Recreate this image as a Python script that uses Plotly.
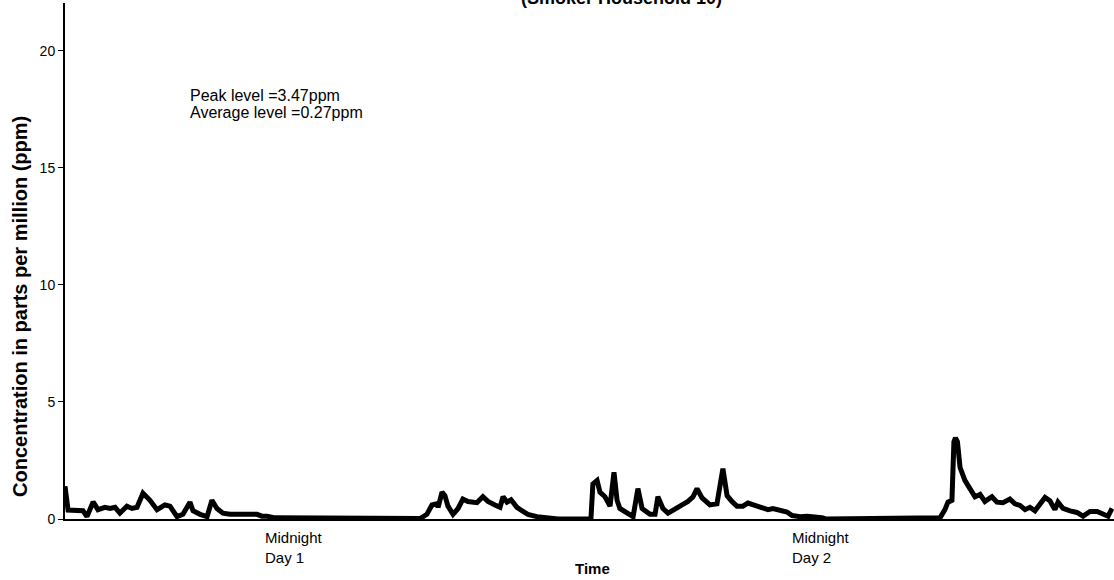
import plotly.graph_objects as go

# Time in hours since start of monitoring (start = 15:00 on the day before "Day 1")
hours = [0.0, 0.14, 0.82, 1.00, 1.28, 1.50, 1.82, 2.05, 2.28, 2.50, 2.82, 3.05, 3.28, 3.55, 3.87,
         4.19, 4.55, 4.78, 5.10, 5.37, 5.69, 5.83, 6.15, 6.47, 6.69, 6.92, 7.19, 7.51, 7.97, 8.42,
         8.74, 8.97, 9.20, 9.56, 9.79, 9.93, 14.80, 14.94, 15.07, 16.07, 16.17, 16.48, 16.71, 16.94,
         16.99, 17.17, 17.30, 17.44, 17.67, 17.90, 18.12, 18.35, 18.76, 19.03, 19.26, 19.58, 19.81,
         19.95, 20.13, 20.31, 20.58, 20.86, 21.08, 21.49, 21.95, 22.31, 22.45, 23.95, 24.04, 24.23,
         24.36, 24.59, 24.82, 25.00, 25.14, 25.27, 25.64, 25.87, 26.09, 26.28, 26.64, 26.87, 27.00,
         27.23, 27.46, 27.78, 28.10, 28.37, 28.60, 28.78, 29.01, 29.37, 29.69, 29.96, 30.15, 30.37,
         30.60, 30.87, 31.10, 31.42, 31.74, 32.01, 32.24, 32.56, 32.88, 33.11, 33.47, 33.79, 34.06,
         34.47, 34.65, 38.62, 38.71, 38.84, 39.75, 39.85, 40.07, 40.21, 40.39, 40.48, 40.55, 40.64,
         40.76, 40.98, 41.21, 41.44, 41.67, 41.89, 42.21, 42.44, 42.71, 43.03, 43.26, 43.49, 43.72,
         43.94, 44.17, 44.40, 44.63, 44.85, 45.08, 45.22, 45.45, 45.77, 46.08, 46.36, 46.68, 47.00,
         47.27, 47.50, 47.68]

ppm = [1.40, 0.38, 0.35, 0.10, 0.73, 0.40, 0.50, 0.45, 0.50, 0.25, 0.55, 0.45, 0.50, 1.10, 0.80,
       0.40, 0.60, 0.55, 0.10, 0.20, 0.72, 0.35, 0.20, 0.10, 0.80, 0.45, 0.25, 0.20, 0.20, 0.22,
       0.20, 0.12, 0.12, 0.05, 0.05, 0.00, 0.00, 0.05, 0.00, 0.00, 0.02, 0.20, 0.60, 0.65,
       0.50, 1.15, 1.00, 0.55, 0.20, 0.45, 0.85, 0.75, 0.70, 0.95, 0.75, 0.60, 0.50,
       0.95, 0.72, 0.82, 0.50, 0.32, 0.20, 0.10, 0.05, 0.05, 0.00, 0.00, 1.50, 1.65,
       1.15, 0.95, 0.55, 2.00, 0.80, 0.45, 0.25, 0.10, 1.30, 0.45, 0.20, 0.20, 0.95,
       0.45, 0.25, 0.40, 0.60, 0.75, 0.95, 1.30, 0.90, 0.60, 0.65, 2.15, 1.00, 0.75,
       0.55, 0.55, 0.68, 0.58, 0.50, 0.40, 0.45, 0.40, 0.30, 0.15, 0.10, 0.12, 0.10,
       0.05, 0.00, 0.00, 0.05, 0.00, 0.00, 0.05, 0.40, 0.72, 0.80, 3.30, 3.47, 3.30,
       2.20, 1.65, 1.30, 0.95, 1.05, 0.75, 0.95, 0.72, 0.70, 0.85, 0.65, 0.58, 0.40,
       0.50, 0.35, 0.65, 0.92, 0.78, 0.40, 0.72, 0.45, 0.35, 0.28, 0.12, 0.32, 0.32,
       0.22, 0.12, 0.45]

tick_hours = [9.0, 33.0]
tick_labels = ["Midnight<br>Day 1", "Midnight<br>Day 2"]
y_ticks = [0, 5, 10, 15, 20]

title_text = "(Smoker Household 10)"
x_title = "Time"
y_title = "Concentration in parts per million (ppm)"
notes = ["Peak level =3.47ppm", "Average level =0.27ppm"]

FONT = "Arial, Liberation Sans, Helvetica, sans-serif"

fig = go.Figure()
fig.add_trace(go.Scatter(x=hours, y=ppm, mode="lines",
                         line=dict(color="black", width=5), showlegend=False,
                         hoverinfo="x+y"))

annotations = []
for th, tl in zip(tick_hours, tick_labels):
    annotations.append(dict(x=th, y=-0.0562, xref="x", yref="paper", text=tl,
                            showarrow=False, xanchor="left", yanchor="middle", align="left",
                            font=dict(family=FONT, size=15, color="black")))
annotations.append(dict(x=0.5033, y=-0.095, xref="paper", yref="paper", text="<b>%s</b>" % x_title,
                        showarrow=False, xanchor="center", yanchor="middle",
                        font=dict(family=FONT, size=15, color="black")))
annotations.append(dict(x=-0.0435, y=0.4118, xref="paper", yref="paper", text="<b>%s</b>" % y_title,
                        showarrow=False, xanchor="center", yanchor="middle", textangle=-90,
                        font=dict(family=FONT, size=20, color="black")))
annotations.append(dict(x=(621 - 65) / 1049, y=1.0097, xref="paper", yref="paper",
                        text="<b>%s</b>" % title_text, showarrow=False,
                        xanchor="center", yanchor="middle",
                        font=dict(family=FONT, size=18, color="black")))
for note, py in zip(notes, [0.8198, 0.7878]):
    annotations.append(dict(x=0.1173, y=py, xref="paper", yref="paper", text=note,
                            showarrow=False, xanchor="left", yanchor="middle", align="left",
                            font=dict(family=FONT, size=16, color="black")))

fig.update_layout(
    width=1114, height=580,
    margin=dict(l=65, r=0, t=3, b=61),
    paper_bgcolor="white", plot_bgcolor="white",
    font=dict(family=FONT, color="black"),
    annotations=annotations,
    xaxis=dict(range=[0, 47.77], showgrid=False, zeroline=False, showticklabels=False,
               ticks="", showline=True, linecolor="black", linewidth=2),
    yaxis=dict(range=[0, 22.05], showgrid=False, zeroline=False, tickvals=y_ticks,
               ticks="outside", ticklen=5, tickwidth=1, tickcolor="black",
               showline=True, linecolor="black", linewidth=2,
               tickfont=dict(family=FONT, size=14, color="black")),
)

fig.write_html("out.html", config={"displayModeBar": False},
               post_script="document.body.style.margin='0';document.body.style.overflow='hidden';")
